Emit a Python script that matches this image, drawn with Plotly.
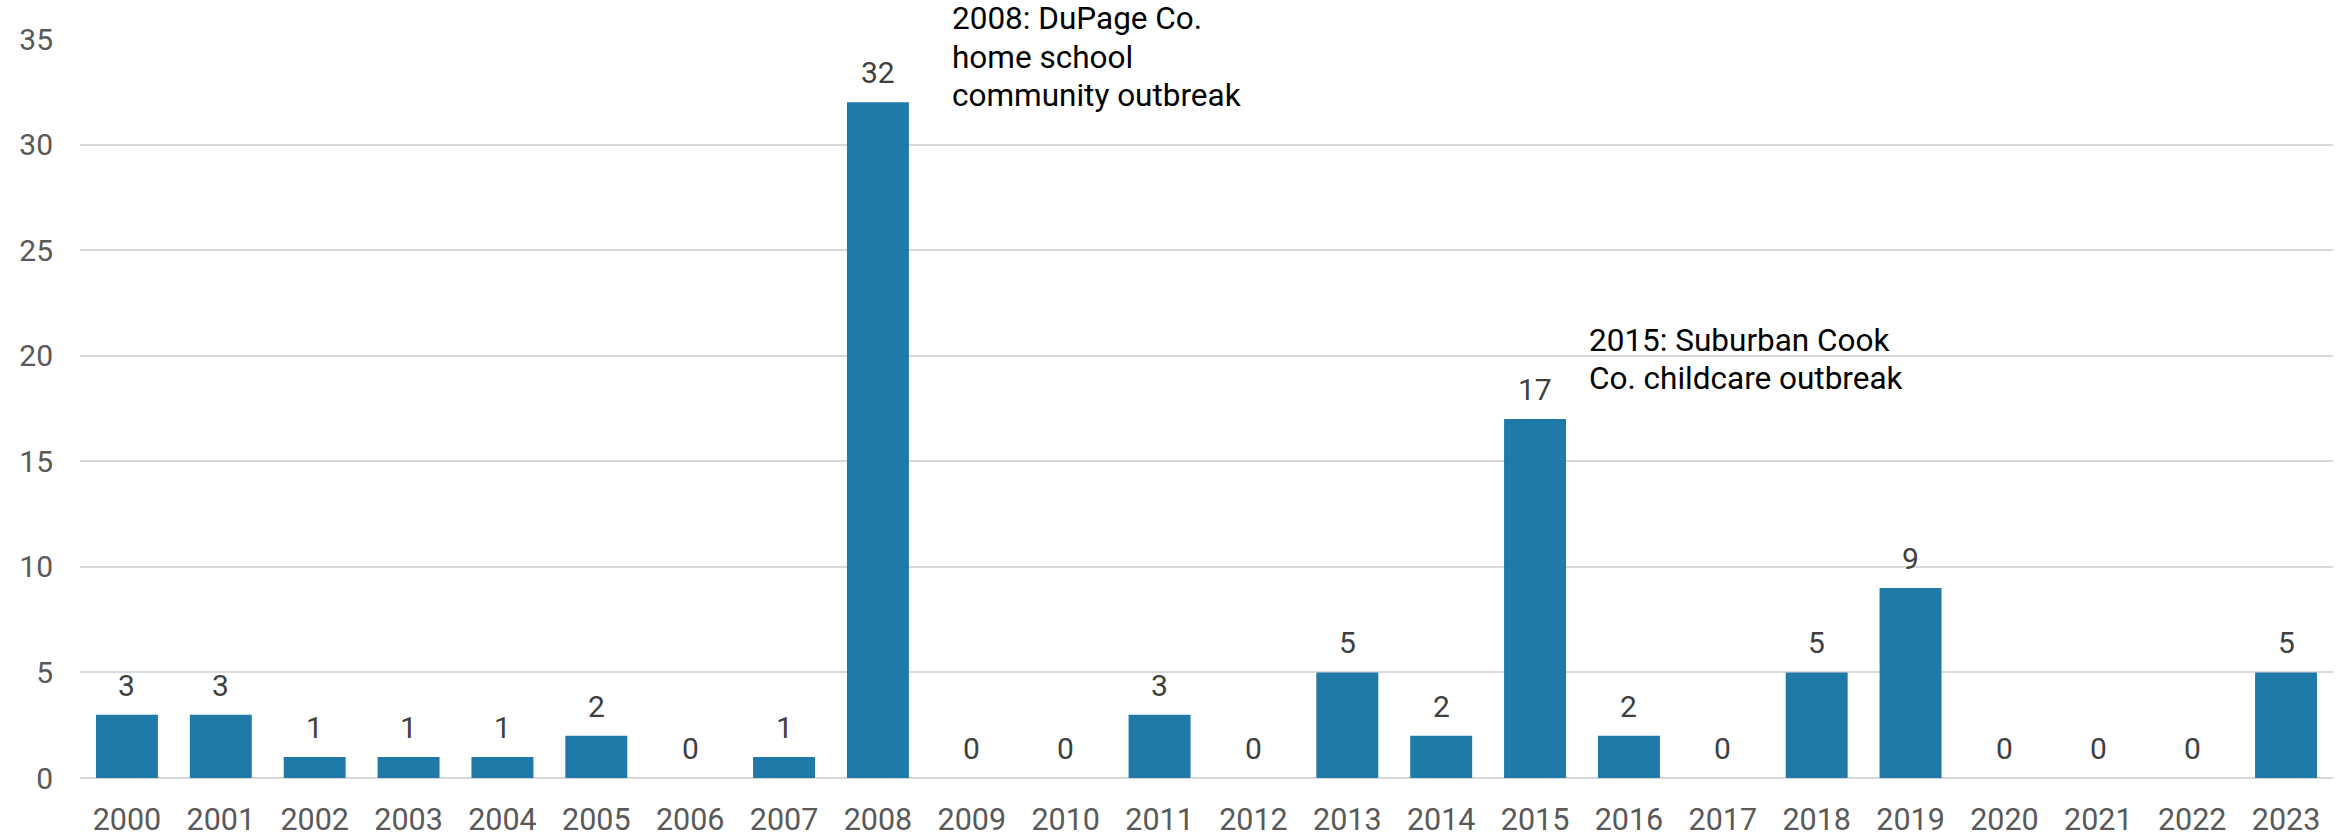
import plotly.graph_objects as go

years = [str(y) for y in range(2000, 2024)]
cases = [3, 3, 1, 1, 1, 2, 0, 1, 32, 0, 0, 3, 0, 5, 2, 17, 2, 0, 5, 9, 0, 0, 0, 5]

y_ticks = [0, 5, 10, 15, 20, 25, 30, 35]

notes = [
    {"year": "2008", "y": 31.2, "xshift": 72, "yshift": 3,
     "lines": ["2008: DuPage Co.", "home school", "community outbreak"]},
    {"year": "2015", "y": 17.95, "xshift": 52, "yshift": 0,
     "lines": ["2015: Suburban Cook", "Co. childcare outbreak"]},
]
LINE_STEP = 38.5

BAR = "#207AA8"
FONT = "Roboto"

fig = go.Figure()
fig.add_trace(go.Bar(x=years, y=cases, marker=dict(color=BAR, line=dict(width=0)), hoverinfo="x+y"))

annotations = []
for i, v in enumerate(cases):
    annotations.append(dict(x=i, y=v, xref="x", yref="y", text=str(v), showarrow=False,
                            yanchor="bottom", yshift=10,
                            font=dict(family=FONT, size=30, color="#404040")))
for n in notes:
    nl = len(n["lines"])
    for k, line in enumerate(n["lines"]):
        annotations.append(dict(x=years.index(n["year"]), y=n["y"], xref="x", yref="y", text=line,
                                showarrow=False, xanchor="left", yanchor="bottom",
                                xshift=n["xshift"], yshift=n["yshift"] + (nl - 1 - k) * LINE_STEP,
                                align="left", font=dict(family=FONT, size=31.5, color="#000000")))

fig.update_layout(
    width=2351, height=836,
    margin=dict(l=80, r=18, t=39, b=58, autoexpand=False),
    paper_bgcolor="white", plot_bgcolor="white",
    bargap=0.34,
    showlegend=False,
    font=dict(family=FONT, size=30, color="#595959"),
    annotations=annotations,
    xaxis=dict(type="category", range=[-0.5, len(years) - 0.5], showgrid=False, showline=False,
               zeroline=False, ticks="", automargin=False,
               tickfont=dict(family=FONT, size=30.5, color="#595959"), ticklabelstandoff=20),
    yaxis=dict(range=[0, 35], tickvals=y_ticks, showgrid=True, gridcolor="#D9D9D9", gridwidth=2,
               zeroline=True, zerolinecolor="#D9D9D9", zerolinewidth=2, showline=False, ticks="",
               automargin=False,
               tickfont=dict(family=FONT, size=30, color="#595959"), ticklabelstandoff=26),
)

fig.write_html("out.html")
